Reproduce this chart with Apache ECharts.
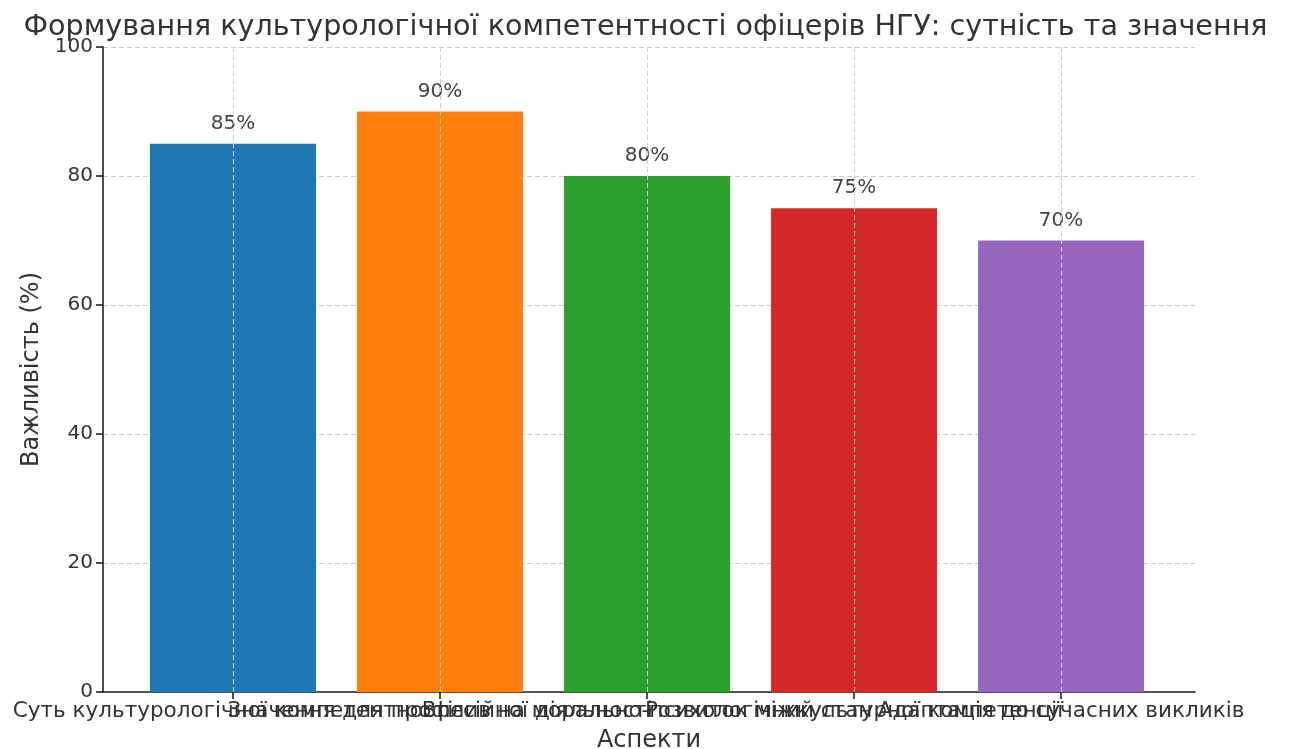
<!DOCTYPE html>
<html><head><meta charset="utf-8">
<script src="https://cdn.jsdelivr.net/npm/echarts@6/dist/echarts.min.js"></script>
<style>html,body{margin:0;padding:0;background:#fff}#c{width:1291px;height:749px}</style>
</head><body><div id="c"></div>
<script>
const categories = [
  "Суть культурологічної компетентності",
  "Значення для професійної діяльності",
  "Вплив на морально-психологічний стан",
  "Розвиток міжкультурної компетенції",
  "Адаптація до сучасних викликів"
];
const values = [85, 90, 80, 75, 70];
const colors = ["#1f77b4", "#ff7f0e", "#2ca02c", "#d62728", "#9467bd"];
const yTicks = [0, 20, 40, 60, 80, 100];

const positions = categories.map((c, i) => i);
const font = "DejaVu Sans";
const chart = echarts.init(document.getElementById('c'));
chart.setOption({
  animation: false,
  title: {
    text: "Формування культурологічної компетентності офіцерів НГУ: сутність та значення",
    left: 'center', top: 8,
    textStyle: {fontFamily: font, fontSize: 28.6, fontWeight: 'normal', color: '#333'}
  },
  grid: {left: 103, right: 96, top: 47, bottom: 57, outerBoundsMode: 'none', containLabel: false},
  xAxis: {
    type: 'value', min: -0.628, max: 4.647,
    name: 'Аспекти', nameLocation: 'middle', nameGap: 37,
    nameTextStyle: {fontFamily: font, fontSize: 24, color: '#333'},
    axisLine: {show: true, onZero: false, lineStyle: {color: '#222', width: 1.6}},
    axisTick: {show: true, customValues: positions, length: 7, lineStyle: {color: '#222', width: 1.6}},
    axisLabel: {show: false},
    splitLine: {show: false}
  },
  yAxis: {
    type: 'value', min: 0, max: 100, interval: 20,
    name: 'Важливість (%)', nameLocation: 'middle', nameGap: 55,
    nameTextStyle: {fontFamily: font, fontSize: 24, color: '#333'},
    axisLine: {show: true, onZero: false, lineStyle: {color: '#222', width: 1.6}},
    axisTick: {show: true, length: 7, lineStyle: {color: '#222', width: 1.6}},
    axisLabel: {fontFamily: font, fontSize: 20, color: '#333', margin: 10,
      formatter: v => yTicks.includes(v) ? String(v) : ''},
    splitLine: {show: true, lineStyle: {color: '#ccc', type: [5, 3], width: 1}}
  },
  series: [{
    type: 'bar',
    barWidth: 166,
    data: values.map((v, i) => ({value: [i, v], itemStyle: {color: colors[i]}})),
    label: {show: true, position: 'top', distance: 10, formatter: p => p.value[1] + '%',
      fontFamily: font, fontSize: 20, color: '#444'},
    markLine: {
      silent: true, symbol: ['none', 'none'], label: {show: false},
      lineStyle: {color: '#ccc', type: [5, 3], width: 1},
      data: positions.map(p => [{coord: [p, 0]}, {coord: [p, 100]}])
    },
    markPoint: {
      silent: true, symbol: 'rect', symbolSize: 0,
      label: {show: true, position: 'bottom', distance: 8, formatter: p => p.name,
        fontFamily: font, fontSize: 21.5, color: '#333'},
      data: positions.map(p => ({name: categories[p], coord: [p, 0]}))
    },
    z: 2
  }]
});
</script></body></html>
